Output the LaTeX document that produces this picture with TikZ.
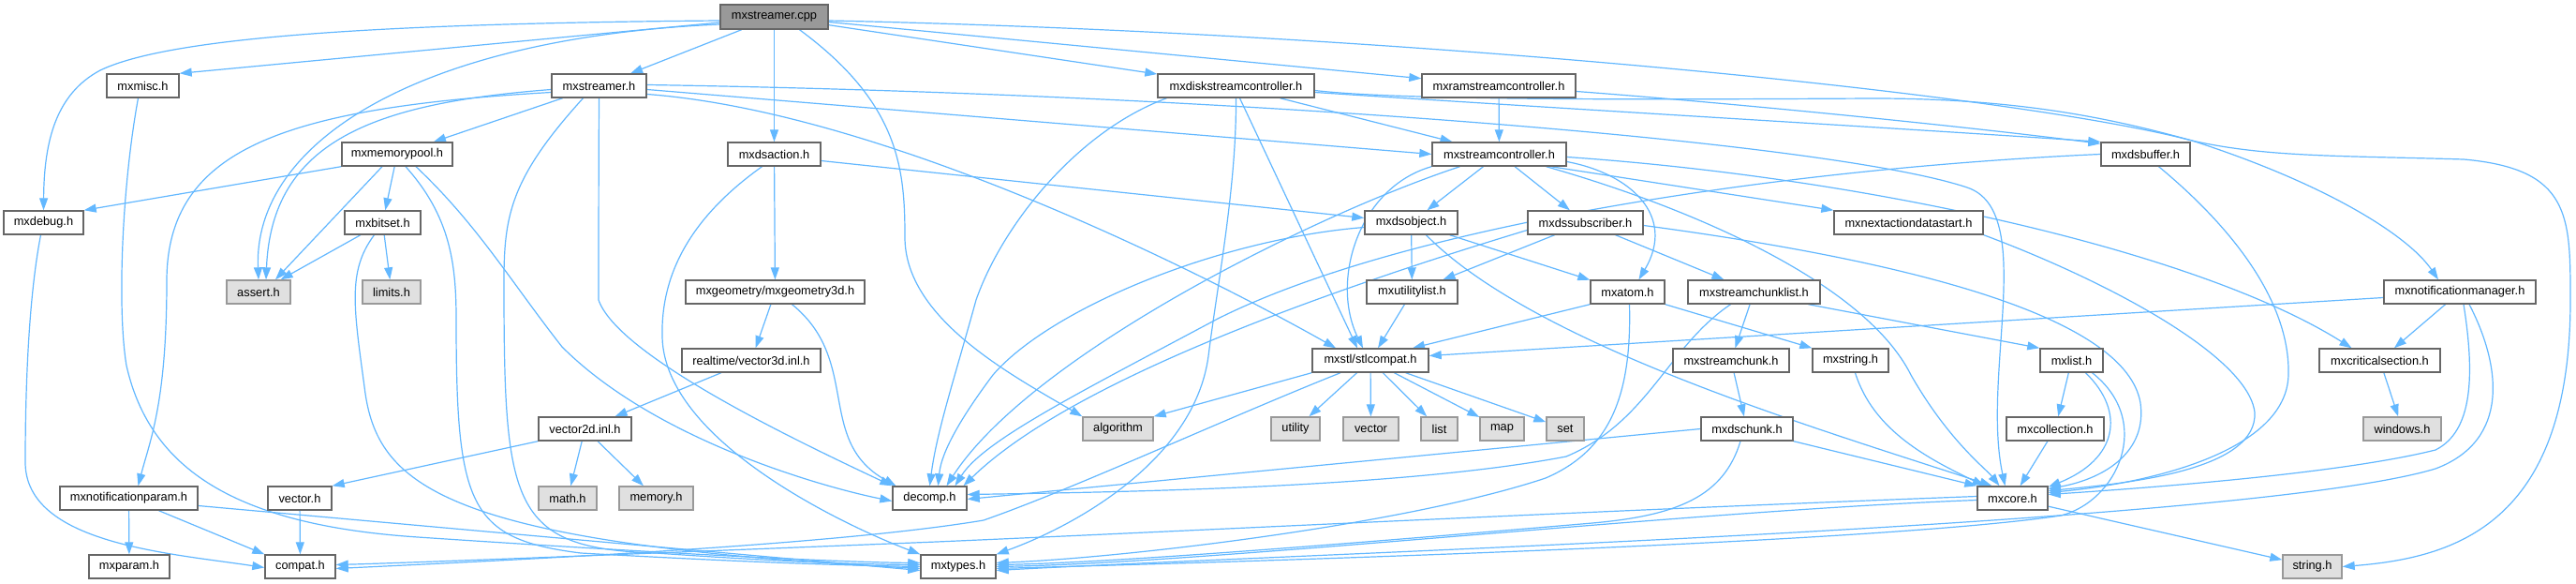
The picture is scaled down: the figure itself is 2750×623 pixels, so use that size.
\documentclass[tikz,border=0pt]{standalone}
\usepackage{fontspec}
\setmainfont{Liberation Sans}
\usetikzlibrary{arrows.meta}
\pgfdeclarelayer{edgelayer}
\pgfsetlayers{edgelayer,main}
\definecolor{edgeblue}{HTML}{63B8FF}
\definecolor{nodeborder}{HTML}{666666}
\definecolor{extborder}{HTML}{999999}
\definecolor{extfill}{HTML}{E0E0E0}
\definecolor{rootfill}{HTML}{999999}
\begin{document}
\begin{tikzpicture}[x=1pt,y=-1pt,
  nd/.style={draw=nodeborder, fill=white, line width=1.4pt, minimum height=25pt, inner sep=0pt,
    font=\fontsize{12.8}{14}\selectfont, text=black},
  ext/.style={nd, draw=extborder, fill=extfill},
  root/.style={nd, fill=rootfill},
  e/.style={draw=edgeblue, line width=1.2pt, -{Triangle[length=13pt,width=9pt]}}
]
\useasboundingbox (0,0) rectangle (2750,623);
% nodes
\node[root, minimum width=115pt, minimum height=26pt] (cpp) at (826.5,18) {mxstreamer.cpp};
\node[nd, minimum width=77pt] (mxmisc) at (152.5,91.5) {mxmisc.h};
\node[nd, minimum width=101pt] (mxstreamerh) at (639.5,91.5) {mxstreamer.h};
\node[nd, minimum width=167pt] (mxdisk) at (1319.5,91.5) {mxdiskstreamcontroller.h};
\node[nd, minimum width=164pt] (mxram) at (1600,91.5) {mxramstreamcontroller.h};
\node[nd, minimum width=118pt] (mxmempool) at (424,164.5) {mxmemorypool.h};
\node[nd, minimum width=99pt] (mxdsaction) at (826.5,164.5) {mxdsaction.h};
\node[nd, minimum width=143pt] (mxstreamctl) at (1600.5,164.5) {mxstreamcontroller.h};
\node[nd, minimum width=95pt] (mxdsbuffer) at (2290.5,164.5) {mxdsbuffer.h};
\node[nd, minimum width=85pt] (mxdebug) at (46.5,237.5) {mxdebug.h};
\node[nd, minimum width=81pt] (mxbitset) at (408.5,237.5) {mxbitset.h};
\node[nd, minimum width=99pt] (mxdsobject) at (1506.5,237.5) {mxdsobject.h};
\node[nd, minimum width=123pt] (mxdssub) at (1692.5,237.5) {mxdssubscriber.h};
\node[nd, minimum width=159pt] (mxnext) at (2037.5,237.5) {mxnextactiondatastart.h};
\node[ext, minimum width=68pt] (assert) at (276,311.5) {assert.h};
\node[ext, minimum width=62pt] (limits) at (418,311.5) {limits.h};
\node[nd, minimum width=191pt] (mxgeom) at (827.5,311.5) {mxgeometry/mxgeometry3d.h};
\node[nd, minimum width=97pt] (mxutil) at (1507.5,311.5) {mxutilitylist.h};
\node[nd, minimum width=79pt] (mxatom) at (1737.5,311.5) {mxatom.h};
\node[nd, minimum width=141pt] (mxscl) at (1872.5,311.5) {mxstreamchunklist.h};
\node[nd, minimum width=162pt] (mxnotifmgr) at (2626,311.5) {mxnotificationmanager.h};
\node[nd, minimum width=148pt] (vec3d) at (802,384.5) {realtime/vector3d.inl.h};
\node[nd, minimum width=124pt] (stlcompat) at (1463,384.5) {mxstl/stlcompat.h};
\node[nd, minimum width=124pt] (mxschunk) at (1848,384.5) {mxstreamchunk.h};
\node[nd, minimum width=81pt] (mxstring) at (1975.5,384.5) {mxstring.h};
\node[nd, minimum width=67pt] (mxlist) at (2211.5,384.5) {mxlist.h};
\node[nd, minimum width=129pt] (mxcrit) at (2540.5,384.5) {mxcriticalsection.h};
\node[nd, minimum width=99pt] (vec2d) at (624.5,457.5) {vector2d.inl.h};
\node[ext, minimum width=75pt] (algorithm) at (1193.5,457.5) {algorithm};
\node[ext, minimum width=52pt] (utility) at (1383,457.5) {utility};
\node[ext, minimum width=59pt] (vector) at (1463.5,457.5) {vector};
\node[ext, minimum width=39pt] (list) at (1536.5,457.5) {list};
\node[ext, minimum width=47pt] (map) at (1603.5,457.5) {map};
\node[ext, minimum width=40pt] (set) at (1671,457.5) {set};
\node[nd, minimum width=98pt] (mxdschunk) at (1865,457.5) {mxdschunk.h};
\node[nd, minimum width=104pt] (mxcoll) at (2194,457.5) {mxcollection.h};
\node[ext, minimum width=83pt] (windows) at (2564.5,457.5) {windows.h};
\node[nd, minimum width=147pt] (mxnotifparam) at (137.5,531.5) {mxnotificationparam.h};
\node[nd, minimum width=68pt] (vectorh) at (320,531.5) {vector.h};
\node[ext, minimum width=62pt] (math) at (606,531.5) {math.h};
\node[ext, minimum width=79pt] (memory) at (700.5,531.5) {memory.h};
\node[nd, minimum width=79pt] (decomp) at (992.5,531.5) {decomp.h};
\node[nd, minimum width=75pt] (mxcore) at (2148.5,531.5) {mxcore.h};
\node[nd, minimum width=86pt] (mxparam) at (138,604.5) {mxparam.h};
\node[nd, minimum width=75pt] (compat) at (320.5,604.5) {compat.h};
\node[nd, minimum width=80pt] (mxtypes) at (1023,604.5) {mxtypes.h};
\node[ext, minimum width=63pt] (string) at (2468.5,604.5) {string.h};

\begin{pgfonlayer}{edgelayer}
\fill[white] (0,0) rectangle (2750,623);
% mxstreamer.cpp
\draw[e] ([yshift=-4pt]cpp.west) .. controls (400,25) and (180,40) .. (107,75) .. controls (60,100) and (47,150) .. (mxdebug.north);
\draw[e] ([yshift=-6pt]cpp.west) -- (mxmisc.north east);
\draw[e] ([yshift=-8pt]cpp.west) .. controls (450,40) and (270,150) .. (assert.north);
\draw[e] (cpp) -- (mxstreamerh);
\draw[e] (cpp) -- (mxdsaction);
\draw[e] ([xshift=27pt]cpp.south) .. controls (960,110) and (966,180) .. (966,253) .. controls (966,340) and (1080,400) .. (algorithm.north west);
\draw[e] (cpp) -- (mxdisk);
\draw[e] (cpp) -- (mxram);
\draw[e] ([yshift=-4pt]cpp.east) .. controls (1500,35) and (2150,100) .. (2340,150) .. controls (2480,195) and (2570,250) .. ([xshift=-23pt]mxnotifmgr.north);
% mxstreamer.h
\draw[e] (mxstreamerh) -- (mxmempool);
\draw[e] ([yshift=-4pt]mxstreamerh.west) .. controls (400,110) and (290,150) .. ([xshift=8pt]assert.north);
\draw[e] ([yshift=-7pt]mxstreamerh.west) .. controls (300,115) and (178,160) .. (178,300) .. controls (178,430) and (160,470) .. ([xshift=10pt]mxnotifparam.north);
\draw[e] ([xshift=-17pt]mxstreamerh.south) .. controls (545,190) and (538,230) .. (538,300) .. controls (538,540) and (545,585) .. (700,590) .. controls (800,597) and (900,602) .. ([yshift=2pt]mxtypes.west);
\draw[e] (mxstreamerh.south) .. controls (639,200) and (639,290) .. (639,320) .. controls (660,380) and (850,470) .. (decomp.north west);
\draw[e] ([yshift=1pt]mxstreamerh.east) .. controls (1300,100) and (1950,150) .. (2100,200) .. controls (2175,225) and (2115,400) .. ([xshift=-8pt]mxcore.north);
\draw[e] ([yshift=-4pt]mxstreamerh.east) -- (mxstreamctl.west);
\draw[e] ([yshift=-9pt]mxstreamerh.east) .. controls (950,120) and (1300,300) .. ([xshift=-37pt]stlcompat.north);
% mxmisc.h
\draw[e] ([xshift=-5pt]mxmisc.south) .. controls (130,200) and (125,330) .. (135,390) .. controls (160,500) and (250,560) .. (446,573) .. controls (700,590) and (900,600) .. ([yshift=4pt]mxtypes.west);
% mxmemorypool.h
\draw[e] (mxmempool.south west) -- (mxdebug.north east);
\draw[e] ([xshift=-16pt]mxmempool.south) -- ([xshift=18pt]assert.north);
\draw[e] (mxmempool) -- (mxbitset);
\draw[e] ([xshift=9pt]mxmempool.south) .. controls (480,230) and (487,280) .. (487,340) .. controls (487,540) and (500,575) .. (620,590) .. controls (800,600) and (900,603) .. (mxtypes.west);
\draw[e] ([xshift=20pt]mxmempool.south) .. controls (510,240) and (545,300) .. (600,370) .. controls (700,470) and (880,520) .. ([yshift=-3pt]decomp.west);
% mxdebug.h
\draw[e] ([xshift=-3pt]mxdebug.south) .. controls (30,320) and (27,420) .. (27,493) .. controls (27,580) and (180,590) .. ([yshift=-1pt]compat.west);
% mxbitset.h
\draw[e] (mxbitset) -- (assert);
\draw[e] (mxbitset) -- (limits);
\draw[e] ([xshift=-9pt]mxbitset.south) .. controls (370,290) and (378,330) .. (390,420) .. controls (405,520) and (480,580) .. ([yshift=-2pt]mxtypes.west);
% mxnotificationparam.h
\draw[e] (mxnotifparam) -- (mxparam);
\draw[e] ([xshift=32pt]mxnotifparam.south) -- (compat.north west);
\draw[e] ([yshift=-8pt]mxnotifparam.east) -- ([yshift=-4pt]mxtypes.west);
% vectors
\draw[e] (vectorh) -- (compat);
\draw[e] (vec2d.south west) -- (vectorh.north east);
\draw[e] (vec2d) -- (math);
\draw[e] (vec2d) -- (memory);
\draw[e] (vec3d) -- (vec2d);
% mxgeometry3d.h
\draw[e] (mxgeom) -- (vec3d);
\draw[e] ([xshift=18pt]mxgeom.south) .. controls (920,385) and (870,470) .. ([xshift=-36pt]decomp.north);
% mxdsaction.h
\draw[e] (mxdsaction) -- (mxgeom);
\draw[e] ([yshift=-7pt]mxdsaction.east) -- ([yshift=5pt]mxdsobject.west);
\draw[e] ([xshift=-13pt]mxdsaction.south) .. controls (740,230) and (705,290) .. (707,360) .. controls (710,470) and (900,560) .. (mxtypes.north west);
% mxdiskstreamcontroller.h
\draw[e] ([xshift=47pt]mxdisk.south) -- ([xshift=-50pt]mxstreamctl.north);
\draw[e] ([yshift=-7pt]mxdisk.east) .. controls (1700,118) and (2000,135) .. (mxdsbuffer.north west);
\draw[e] ([yshift=-5pt]mxdisk.east) .. controls (1500,108) and (1800,106) .. (2000,105) .. controls (2150,105) and (2250,125) .. (2340,150) .. controls (2420,168) and (2500,166) .. (2630,170) .. controls (2744,180) and (2744,230) .. (2744,320) .. controls (2744,560) and (2620,595) .. (string.east);
\draw[e] ([xshift=-74pt]mxdisk.south) .. controls (1150,140) and (1070,240) .. (1042,320) .. controls (1020,400) and (1000,460) .. (decomp.north);
\draw[e] (mxdisk.south) .. controls (1320,200) and (1300,300) .. (1290,380) .. controls (1275,490) and (1150,560) .. (mxtypes.north east);
\draw[e] ([xshift=4pt]mxdisk.south) -- ([xshift=-14pt]stlcompat.north);
% mxramstreamcontroller.h
\draw[e] (mxram) -- (mxstreamctl);
\draw[e] ([yshift=-6pt]mxram.east) .. controls (1850,110) and (2100,135) .. ([yshift=-2pt]mxdsbuffer.north west);
% mxstreamcontroller.h
\draw[e] (mxstreamctl) -- (mxdsobject);
\draw[e] (mxstreamctl) -- (mxdssub);
\draw[e] ([xshift=55pt]mxstreamctl.south) -- (mxnext.north west);
\draw[e] ([yshift=-3pt]mxstreamctl.east) .. controls (2000,190) and (2350,270) .. ([xshift=-30pt]mxcrit.north);
\draw[e] ([yshift=-8pt]mxstreamctl.east) .. controls (1740,185) and (1790,230) .. ([xshift=12pt]mxatom.north);
\draw[e] ([xshift=50pt]mxstreamctl.south) .. controls (1800,220) and (1990,300) .. (2040,400) .. controls (2080,470) and (2120,500) .. ([xshift=-14pt]mxcore.north);
\draw[e] ([xshift=-42pt]mxstreamctl.south) .. controls (1400,230) and (1100,380) .. ([xshift=18pt]decomp.north);
\draw[e] (mxstreamctl.south west) .. controls (1450,200) and (1420,300) .. ([xshift=-8pt]stlcompat.north);
% mxdsbuffer.h
\draw[e] (mxdsbuffer.west) .. controls (1900,180) and (1500,240) .. (1300,340) .. controls (1150,420) and (1050,470) .. ([xshift=27pt]decomp.north);
\draw[e] ([xshift=14pt]mxdsbuffer.south) .. controls (2380,240) and (2445,320) .. (2443,400) .. controls (2441,480) and (2300,515) .. ([yshift=6pt]mxcore.east);
% mxdsobject.h
\draw[e] (mxdsobject) -- (mxutil);
\draw[e] (mxdsobject) -- (mxatom);
\draw[e] ([xshift=16pt]mxdsobject.south) .. controls (1640,370) and (1950,460) .. ([xshift=-22pt]mxcore.north);
\draw[e] ([yshift=-5pt]mxdsobject.west) .. controls (1300,255) and (1120,330) .. (1060,400) .. controls (1030,440) and (1005,480) .. ([xshift=9pt]decomp.north);
% mxdssubscriber.h
\draw[e] (mxdssub) -- (mxutil);
\draw[e] (mxdssub) -- (mxscl);
\draw[e] ([yshift=-8pt]mxdssub.west) .. controls (1450,300) and (1150,400) .. ([xshift=36pt]decomp.north);
\draw[e] ([yshift=-3pt]mxdssub.east) .. controls (2050,280) and (2270,340) .. (2285,430) .. controls (2292,480) and (2250,510) .. ([yshift=10pt]mxcore.east);
% mxnextactiondatastart.h
\draw[e] (mxnext.south east) .. controls (2250,300) and (2400,380) .. (2407,440) .. controls (2410,500) and (2280,515) .. ([yshift=8pt]mxcore.east);
% mxnotificationmanager.h
\draw[e] (mxnotifmgr) -- (mxcrit);
\draw[e] ([xshift=4pt]mxnotifmgr.south) .. controls (2642,400) and (2640,460) .. (2600,480) .. controls (2500,505) and (2300,520) .. ([yshift=4pt]mxcore.east);
\draw[e] ([xshift=10pt]mxnotifmgr.south) .. controls (2670,390) and (2680,470) .. (2600,500) .. controls (2400,560) and (1400,590) .. ([yshift=-4pt]mxtypes.east);
\draw[e] ([yshift=-6pt]mxnotifmgr.west) -- ([yshift=5pt]stlcompat.east);
% mxcriticalsection.h
\draw[e] (mxcrit) -- (windows);
% mxutilitylist.h
\draw[e] (mxutil) -- (stlcompat);
% mxatom.h
\draw[e] (mxatom.south west) -- ([xshift=45pt]stlcompat.north);
\draw[e] (mxatom.south east) -- (mxstring.north west);
\draw[e] ([xshift=2pt]mxatom.south) .. controls (1742,420) and (1720,480) .. (1650,510) .. controls (1500,560) and (1200,595) .. ([yshift=4pt]mxtypes.east);
% mxstreamchunklist.h
\draw[e] (mxscl) -- (mxschunk);
\draw[e] ([xshift=58pt]mxscl.south) -- (mxlist.north west);
\draw[e] ([xshift=-25pt]mxscl.south) .. controls (1780,370) and (1760,450) .. (1672,487) .. controls (1500,520) and (1200,525) .. ([yshift=4pt]decomp.east);
% mxstreamchunk.h
\draw[e] (mxschunk) -- (mxdschunk);
% mxdschunk.h
\draw[e] (mxdschunk.west) -- ([yshift=-1pt]decomp.east);
\draw[e] (mxdschunk.south east) -- (mxcore.north west);
\draw[e] ([xshift=-7pt]mxdschunk.south) .. controls (1840,530) and (1790,550) .. (1700,558) .. controls (1500,575) and (1200,600) .. ([yshift=2pt]mxtypes.east);
% mxstring.h
\draw[e] ([xshift=5pt]mxstring.south) .. controls (2000,460) and (2060,490) .. ([xshift=-30pt]mxcore.north);
% mxlist.h
\draw[e] (mxlist) -- (mxcoll);
\draw[e] ([xshift=15pt]mxlist.south) .. controls (2270,440) and (2260,490) .. ([yshift=12pt]mxcore.east);
\draw[e] ([xshift=22pt]mxlist.south) .. controls (2300,450) and (2260,535) .. (2200,550) .. controls (2000,580) and (1300,600) .. ([yshift=-2pt]mxtypes.east);
% mxcollection.h
\draw[e] (mxcoll) -- (mxcore);
% mxcore.h
\draw[e] ([yshift=2pt]mxcore.west) .. controls (1700,545) and (1300,565) .. (1000,578) .. controls (700,590) and (450,600) .. ([yshift=2pt]compat.east);
\draw[e] ([yshift=-2pt]mxcore.west) .. controls (1800,545) and (1300,600) .. (mxtypes.east);
\draw[e] (mxcore) -- (string);
% mxstl/stlcompat.h
\draw[e] (stlcompat.south west) -- (algorithm.north east);
\draw[e] (stlcompat) -- (utility);
\draw[e] (stlcompat) -- (vector);
\draw[e] (stlcompat) -- (list);
\draw[e] (stlcompat) -- (map);
\draw[e] (stlcompat) -- (set);
\draw[e] ([xshift=-32pt]stlcompat.south) .. controls (1300,450) and (1150,520) .. (1050,555) .. controls (900,580) and (600,595) .. ([yshift=-2pt]compat.east);
\end{pgfonlayer}
\end{tikzpicture}
\end{document}
